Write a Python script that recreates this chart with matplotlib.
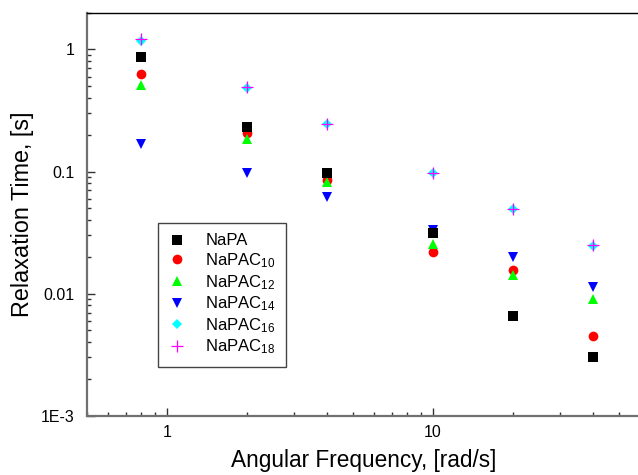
import matplotlib
matplotlib.use("Agg")
import matplotlib.pyplot as plt
from matplotlib.ticker import LogLocator, FixedLocator, FixedFormatter, NullFormatter

plt.rcParams['font.family'] = ['Liberation Sans', 'DejaVu Sans']
plt.rcParams['mathtext.default'] = 'regular'

freq = [0.8, 2, 4, 10, 20, 40]
napa = [0.865, 0.23, 0.097, 0.0313, 0.0065, 0.0030]
napac10 = [0.625, 0.207, 0.086, 0.0221, 0.0157, 0.00449]
napac12 = [0.51, 0.183, 0.082, 0.0256, 0.0141, 0.00905]
napac14 = [0.167, 0.098, 0.0623, 0.0330, 0.0198, 0.0113]
napac16 = [1.17, 0.48, 0.245, 0.0967, 0.0491, 0.0247]
napac18 = [1.22, 0.49, 0.247, 0.0975, 0.0495, 0.0249]

labels = ['NaPA', 'NaPAC$_{10}$', 'NaPAC$_{12}$', 'NaPAC$_{14}$',
          'NaPAC$_{16}$', 'NaPAC$_{18}$']
ytick_vals = [1e-3, 1e-2, 1e-1, 1]
ytick_labels = ['1E-3', '0.01', '0.1', '1']
xtick_vals = [1, 10]
xtick_labels = ['1', '10']

fig = plt.figure(figsize=(6.38, 4.75), dpi=100)
ax = fig.add_axes([87/638, (475-415.7)/475, 553/638, 403/475])

h = {}
h[0] = ax.plot(freq, napa, 's', color='black', ms=6.5, mew=0, zorder=8, label=labels[0])[0]
h[1] = ax.plot(freq, napac10, 'o', color='#ff0000', ms=7, mew=0, zorder=3, label=labels[1])[0]
h[2] = ax.plot(freq, napac12, '^', color='#00ff00', ms=7.5, mew=0, zorder=4, label=labels[2])[0]
h[3] = ax.plot(freq, napac14, 'v', color='#0000ff', ms=7.5, mew=0, zorder=5, label=labels[3])[0]
h[4] = ax.plot(freq, napac16, 'D', color='#00ffff', ms=5.5, mew=0, zorder=6, label=labels[4])[0]
h[5] = ax.plot(freq, napac18, '+', color='#ff00ff', ms=8, mew=0.9, zorder=7, label=labels[5])[0]

ax.set_xscale('log')
ax.set_yscale('log')
ax.set_xlim(0.5, 60)
ax.set_ylim(1e-3, 2)

ax.xaxis.set_major_locator(FixedLocator(xtick_vals))
ax.xaxis.set_major_formatter(FixedFormatter(xtick_labels))
ax.xaxis.set_minor_locator(LogLocator(base=10, subs=[2, 3, 4, 5, 6, 7, 8, 9], numticks=20))
ax.xaxis.set_minor_formatter(NullFormatter())
ax.yaxis.set_major_locator(FixedLocator(ytick_vals))
ax.yaxis.set_major_formatter(FixedFormatter(ytick_labels))
ax.yaxis.set_minor_locator(LogLocator(base=10, subs=[2, 3, 4, 5, 6, 7, 8, 9], numticks=20))
ax.yaxis.set_minor_formatter(NullFormatter())

ax.tick_params(which='both', direction='in', top=False, right=False, colors='#333333',
               labelcolor='black', labelsize=11.5)
ax.tick_params(which='major', length=6, width=1)
ax.tick_params(which='minor', length=3, width=1)
ax.tick_params(axis='y', pad=9)
ax.tick_params(axis='x', pad=7)

ax.spines['left'].set_color('#707070')
ax.spines['left'].set_linewidth(1.6)
ax.spines['bottom'].set_color('#707070')
ax.spines['bottom'].set_linewidth(1.6)
ax.spines['top'].set_color('black')
ax.spines['top'].set_linewidth(1.0)
ax.spines['right'].set_visible(False)

ax.set_xlabel('Angular Frequency, [rad/s]', fontsize=16.3, labelpad=6)
ax.set_ylabel('Relaxation Time, [s]', fontsize=16.8, labelpad=5)

leg = ax.legend([h[i] for i in range(6)], labels, loc='lower left',
                bbox_to_anchor=(0.128, 0.121), borderaxespad=0, fontsize=12,
                frameon=True, fancybox=False, framealpha=1, edgecolor='#444444',
                handlelength=1.0, handletextpad=1.2, borderpad=0.65,
                labelspacing=0.17, numpoints=1)
leg.get_frame().set_linewidth(1.0)

fig.savefig('out.png', dpi=100)
